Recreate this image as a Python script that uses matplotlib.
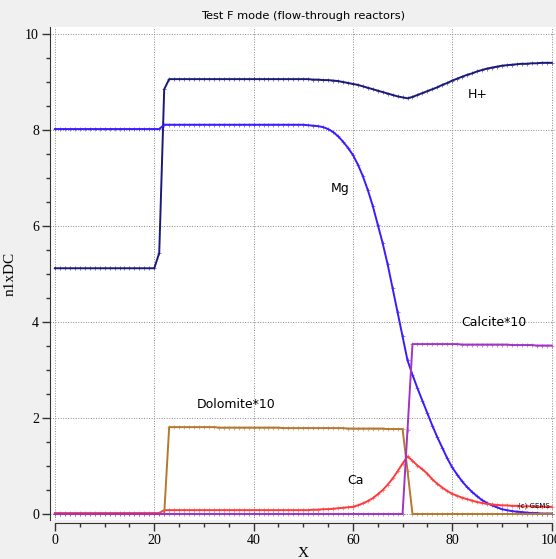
import matplotlib
matplotlib.use('Agg')
import matplotlib.pyplot as plt
from matplotlib.ticker import MultipleLocator

# x positions: one sample per unit
x = list(range(0, 101))

h_plus = ([5.12] * 21 + [5.44, 8.85] + [9.06] * 29 +
          [9.05, 9.05, 9.04, 9.04, 9.03, 9.02, 9.00, 8.98, 8.96, 8.94,
           8.91, 8.88, 8.85, 8.82, 8.79, 8.76, 8.73, 8.70, 8.68, 8.66,
           8.69, 8.73, 8.77, 8.81, 8.85, 8.89, 8.94, 8.98, 9.03, 9.07,
           9.11, 9.15, 9.18, 9.22, 9.25, 9.28, 9.30, 9.32, 9.34, 9.35,
           9.36, 9.37, 9.38, 9.38, 9.39, 9.39, 9.40, 9.40, 9.40])

mg = ([8.02] * 22 + [8.11] * 29 +
      [8.10, 8.09, 8.08, 8.06, 8.02, 7.96, 7.87, 7.76, 7.63, 7.48,
       7.28, 7.04, 6.75, 6.42, 6.03, 5.64, 5.20, 4.70, 4.20, 3.70,
       3.20, 2.90, 2.62, 2.36, 2.10, 1.84, 1.60, 1.38, 1.16, 0.97,
       0.82, 0.68, 0.56, 0.46, 0.37, 0.29, 0.23, 0.18, 0.14, 0.10,
       0.08, 0.06, 0.05, 0.04, 0.03, 0.02, 0.02, 0.01, 0.01, 0.01])

ca = ([0.02] * 22 + [0.08] * 29 +
      [0.08, 0.09, 0.09, 0.10, 0.10, 0.11, 0.12, 0.13, 0.14, 0.15,
       0.18, 0.22, 0.27, 0.33, 0.41, 0.50, 0.61, 0.74, 0.89, 1.05,
       1.20, 1.11, 1.01, 0.93, 0.84, 0.72, 0.63, 0.55, 0.48, 0.42,
       0.38, 0.34, 0.31, 0.28, 0.25, 0.23, 0.21, 0.20, 0.19, 0.18,
       0.18, 0.17, 0.17, 0.16, 0.16, 0.16, 0.15, 0.15, 0.15, 0.15])

dolomite10 = ([0.0] * 23 + [1.81] * 10 + [1.80] * 13 + [1.79] * 13 +
              [1.78] * 8 + [1.77] * 4 + [0.9] + [0.0] * 29)

calcite10 = ([0.0] * 71 + [1.76] + [3.54] * 10 + [3.53] * 10 +
             [3.52] * 5 + [3.51] * 4)

series = [
    (h_plus, '#1a1a78'),
    (mg, '#3a1cff'),
    (ca, '#ff3b3b'),
    (dolomite10, '#b5782e'),
    (calcite10, '#a233c4'),
]

labels = [
    ('H+', 85.2, 8.73),
    ('Mg', 57.5, 6.79),
    ('Calcite*10', 88.3, 4.0),
    ('Dolomite*10', 36.5, 2.29),
    ('Ca', 60.5, 0.69),
]

W, H = 556, 559
fig = plt.figure(figsize=(W / 100, H / 100), dpi=100, facecolor='#f0f0f0')
ax = fig.add_axes([50 / W, (H - 520) / H, (556 - 50) / W, (520 - 27) / H])
ax.set_facecolor('white')

for vals, col in series:
    ax.plot(x, vals, color=col, lw=1.4, zorder=3)
    # small tick-like point markers, slightly faded like the original
    ax.plot(x, vals, ls='none', marker='+', ms=3, mew=0.7,
            color=col, alpha=0.55, zorder=3)

for txt, tx, ty in labels:
    ax.text(tx, ty, txt, fontsize=9, ha='center', va='center',
            family='DejaVu Sans', zorder=4)
ax.text(96.5, 0.17, '(c) GEMS', fontsize=5, ha='center', va='center',
        family='DejaVu Sans', zorder=4)

ax.set_xlim(-1.0, 100.9)
ax.set_ylim(-0.125, 10.146)

ax.xaxis.set_major_locator(MultipleLocator(20))
ax.xaxis.set_minor_locator(MultipleLocator(5))
ax.yaxis.set_major_locator(MultipleLocator(2))
ax.yaxis.set_minor_locator(MultipleLocator(0.5))

ax.grid(True, which='major', color='#8a8a8a', lw=0.7,
        linestyle=(0, (1, 1.6)), zorder=1)

for side in ('top', 'right'):
    ax.spines[side].set_visible(False)
ax.spines['bottom'].set_position(('outward', 2))
ax.spines['bottom'].set_bounds(0, 100)
ax.spines['left'].set_color('#333333')
ax.spines['bottom'].set_color('#333333')

ax.tick_params(axis='both', which='major', length=6, width=1,
               color='#333333', labelsize=10, pad=2)
ax.tick_params(axis='both', which='minor', length=3, width=1,
               color='#333333')
for lab in ax.get_xticklabels() + ax.get_yticklabels():
    lab.set_family('Liberation Serif')

ax.set_xlabel('X', family='Liberation Serif', fontsize=11, labelpad=0)
ax.set_ylabel('n1xDC', family='Liberation Serif', fontsize=11, labelpad=6)
ax.set_title('Test F mode (flow-through reactors)', fontsize=8.2,
             family='DejaVu Sans', pad=6)

fig.savefig('out.png', dpi=100, facecolor=fig.get_facecolor())
